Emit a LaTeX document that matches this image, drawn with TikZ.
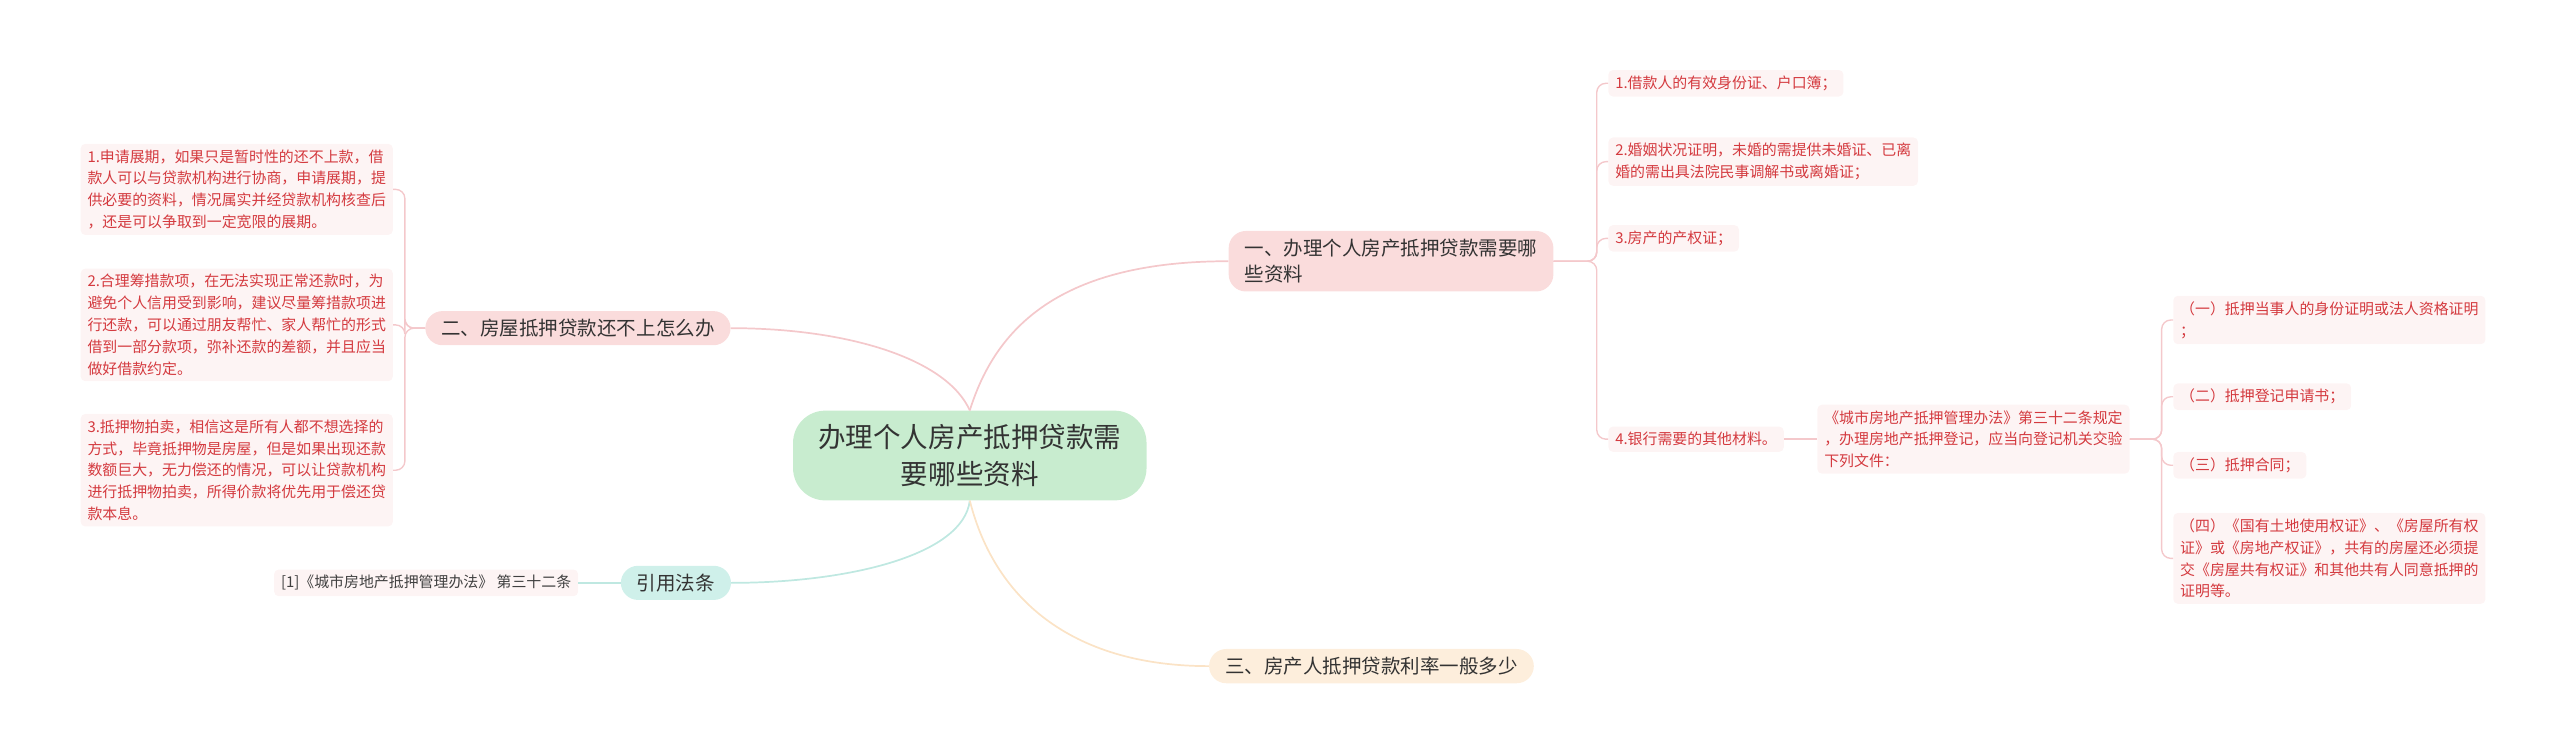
\documentclass[tikz,border=0pt]{standalone}
\usepackage{fontspec}
\setmainfont{Noto Sans CJK SC}
\usetikzlibrary{positioning}
\definecolor{leaffill}{HTML}{FDF4F4}
\definecolor{leaftext}{HTML}{D43A3F}
\definecolor{pinkline}{HTML}{F4C8CB}
\definecolor{pinkfill}{HTML}{FADCDC}
\definecolor{greenfill}{HTML}{C8ECCF}
\definecolor{tealfill}{HTML}{CFF0EA}
\definecolor{tealline}{HTML}{BFE8E1}
\definecolor{orangefill}{HTML}{FDEEDC}
\definecolor{orangeline}{HTML}{FBE3C6}
\tikzset{
  leaf/.style={fill=leaffill, text=leaftext, rounded corners=4pt, align=left,
    inner xsep=6pt, inner ysep=5pt, font=\fontsize{13}{19}\selectfont},
  branch/.style={rounded corners=15pt, text=black!80, align=left,
    inner xsep=14pt, inner ysep=7pt, font=\fontsize{17}{23}\selectfont},
  link/.style={draw=pinkline, line width=1.2pt, rounded corners=8pt},
}
\begin{document}
\begin{tikzpicture}[x=0.05cm, y=-0.05cm]
  \useasboundingbox (0,0) rectangle (1568,461);
  % centre and main branches
  \node (root) [fill=greenfill, rounded corners=28pt, align=center, inner xsep=22pt, inner ysep=12pt,
    font=\fontsize{24}{32}\selectfont, text=black!80] at (594,279) {办理个人房产抵押贷款需\\要哪些资料};
  \node (need) [branch, fill=pinkfill] at (852,160) {一、办理个人房产抵押贷款需要哪\\些资料};
  \node (repay) [branch, fill=pinkfill] at (354,201) {二、房屋抵押贷款还不上怎么办};
  \node (cite) [branch, fill=tealfill] at (414,357) {引用法条};
  \node (rate) [branch, fill=orangefill] at (840,408) {三、房产人抵押贷款利率一般多少};
  \draw[pinkline, line width=1.5pt] (root.north) .. controls (610,200) and (650,160) .. (need.west);
  \draw[pinkline, line width=1.5pt] (root.north) .. controls (580,220) and (520,201) .. (repay.east);
  \draw[tealline, line width=1.5pt] (root.south) .. controls (590,340) and (520,357) .. (cite.east);
  \draw[orangeline, line width=1.5pt] (root.south) .. controls (610,370) and (660,408) .. (rate.west);
  % left leaves
  \node (ext) [leaf] at (145,116) {1.申请展期，如果只是暂时性的还不上款，借\\款人可以与贷款机构进行协商，申请展期，提\\供必要的资料，情况属实并经贷款机构核查后\\，还是可以争取到一定宽限的展期。};
  \node (fund) [leaf] at (145,199) {2.合理筹措款项，在无法实现正常还款时，为\\避免个人信用受到影响，建议尽量筹措款项进\\行还款，可以通过朋友帮忙、家人帮忙的形式\\借到一部分款项，弥补还款的差额，并且应当\\做好借款约定。};
  \node (sale) [leaf] at (145,288) {3.抵押物拍卖，相信这是所有人都不想选择的\\方式，毕竟抵押物是房屋，但是如果出现还款\\数额巨大，无力偿还的情况，可以让贷款机构\\进行抵押物拍卖，所得价款将优先用于偿还贷\\款本息。};
  \foreach \n in {ext,fund,sale}
    \draw[link] (repay.west) -- (248,201) |- (\n.east);
  \node (law) [leaf, text=black!75] at (261,357) {[1]《城市房地产抵押管理办法》 第三十二条};
  \draw[tealline, line width=1.2pt] (cite.west) -- (law.east);
  % right leaves
  \node (idcard) [leaf, anchor=west] at (985,51) {1.借款人的有效身份证、户口簿；};
  \node (marry) [leaf, anchor=west] at (985,99) {2.婚姻状况证明，未婚的需提供未婚证、已离\\婚的需出具法院民事调解书或离婚证；};
  \node (deed) [leaf, anchor=west] at (985,146) {3.房产的产权证；};
  \node (other) [leaf, anchor=west] at (985,269) {4.银行需要的其他材料。};
  \foreach \n in {idcard,marry,deed,other}
    \draw[link] (need.east) -- (978,160) |- (\n.west);
  \node (rule) [leaf, anchor=west] at (1113,269) {《城市房地产抵押管理办法》第三十二条规定\\，办理房地产抵押登记，应当向登记机关交验\\下列文件：};
  \draw[link] (other.east) -- (rule.west);
  \node (doc1) [leaf, anchor=west] at (1331,196) {（一）抵押当事人的身份证明或法人资格证明\\；};
  \node (doc2) [leaf, anchor=west] at (1331,243) {（二）抵押登记申请书；};
  \node (doc3) [leaf, anchor=west] at (1331,285) {（三）抵押合同；};
  \node (doc4) [leaf, anchor=west] at (1331,342) {（四）《国有土地使用权证》、《房屋所有权\\证》或《房地产权证》，共有的房屋还必须提\\交《房屋共有权证》和其他共有人同意抵押的\\证明等。};
  \foreach \n in {doc1,doc2,doc3,doc4}
    \draw[link] (rule.east) -- (1324,269) |- (\n.west);
\end{tikzpicture}
\end{document}
